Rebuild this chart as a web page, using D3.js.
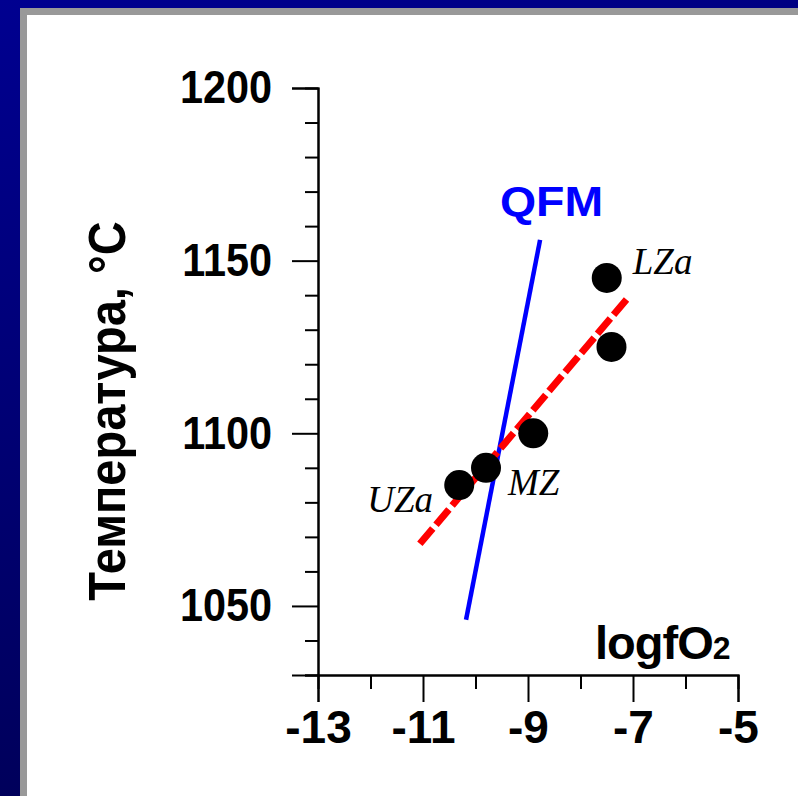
<!DOCTYPE html>
<html>
<head>
<meta charset="utf-8">
<script src="https://cdn.jsdelivr.net/npm/d3@7"></script>
<style>
  html, body { margin: 0; padding: 0; background: #fff; }
  svg { display: block; }
</style>
</head>
<body>
<div id="chart"></div>
<script>
// Temperature vs. oxygen fugacity for the zones of the intrusion
const zoneNames   = ["LZa", "", "", "MZ", "UZa"];
const logfO2      = [-7.50, -7.41, -8.90, -9.80, -10.31];
const temperature = [1145, 1125, 1100, 1090, 1085];

// QFM buffer curve and the trend through the samples
const qfmLogfO2 = [-10.18, -8.77];
const qfmTemp   = [1046, 1156];
const trendLogfO2 = [-11.06, -7.11];
const trendTemp   = [1068, 1139];

// Axis ticks
const xMajorTicks = [-13, -11, -9, -7, -5];
const xMinorTicks = [-12, -10, -8, -6];
const yMajorTicks = [1050, 1100, 1150, 1200];
const yMinorTicks = [1030, 1040, 1060, 1070, 1080, 1090, 1110, 1120, 1130, 1140, 1160, 1170, 1180, 1190];

const W = 798, H = 796;
const svg = d3.select("#chart").append("svg")
  .attr("width", W).attr("height", H);

// Slide frame: navy background, grey bevel, white panel
const defs = svg.append("defs");
const grad = defs.append("linearGradient").attr("id", "navy")
  .attr("x1", 0).attr("y1", 0).attr("x2", 0.25).attr("y2", 1);
grad.append("stop").attr("offset", "0%").attr("stop-color", "#000090");
grad.append("stop").attr("offset", "100%").attr("stop-color", "#000058");
svg.append("rect").attr("width", W).attr("height", H).attr("fill", "url(#navy)");
svg.append("rect").attr("x", 20).attr("y", 8).attr("width", W - 20).attr("height", H - 8).attr("fill", "#999999");
svg.append("rect").attr("x", 27).attr("y", 15).attr("width", W - 27).attr("height", H - 15).attr("fill", "#ffffff");

const x = d3.scaleLinear().domain([-13, -5]).range([318, 738]);
const y = d3.scaleLinear().domain([1030, 1200]).range([675, 88]);

const mainFont = "'Liberation Sans', Arial, sans-serif";

// Y axis
const yMinor = svg.append("g").attr("transform", `translate(${x(-13)},0)`)
  .call(d3.axisLeft(y).tickValues(yMinorTicks).tickSize(13).tickFormat(""));
const yMajor = svg.append("g").attr("transform", `translate(${x(-13)},0)`)
  .call(d3.axisLeft(y).tickValues(yMajorTicks).tickSize(26).tickPadding(20).tickFormat(d3.format("d")));
// X axis
const xMinor = svg.append("g").attr("transform", `translate(0,${y(1030)})`)
  .call(d3.axisBottom(x).tickValues(xMinorTicks).tickSize(14).tickFormat(""));
const xMajor = svg.append("g").attr("transform", `translate(0,${y(1030)})`)
  .call(d3.axisBottom(x).tickValues(xMajorTicks).tickSize(27).tickPadding(8).tickFormat(d => d));

[yMinor, yMajor, xMinor, xMajor].forEach(g => {
  g.selectAll("path.domain").attr("stroke", "#000").attr("stroke-width", 2);
  g.selectAll(".tick line").attr("stroke", "#000").attr("stroke-width", 2);
  g.selectAll(".tick text")
    .attr("fill", "#000")
    .style("font-family", mainFont)
    .style("font-weight", "bold")
    .style("font-size", "46px");
});
xMajor.selectAll(".tick text").attr("dy", "0.71em");
// condensed temperature labels
yMajor.selectAll(".tick text")
  .attr("x", 0)
  .attr("transform", "translate(-46,0) scale(0.9,1)");

// Axis titles
svg.append("text")
  .attr("transform", "translate(125,411) scale(1.1,1) rotate(-90)")
  .attr("text-anchor", "middle")
  .style("font-family", mainFont).style("font-weight", "bold").style("font-size", "47px")
  .text("Температура, °C");

const xt = svg.append("text")
  .attr("x", 595).attr("y", 659)
  .attr("letter-spacing", "-1")
  .style("font-family", mainFont).style("font-weight", "bold").style("font-size", "47px");
xt.append("tspan").text("logfO");
xt.append("tspan").style("font-size", "32px").text("2");

// QFM buffer
svg.append("line")
  .attr("x1", x(qfmLogfO2[0])).attr("y1", y(qfmTemp[0]))
  .attr("x2", x(qfmLogfO2[1])).attr("y2", y(qfmTemp[1]))
  .attr("stroke", "#0000ff").attr("stroke-width", 4.5);
svg.append("text")
  .attr("transform", "translate(500,216) scale(1.08,1)")
  .attr("fill", "#0000ff")
  .style("font-family", mainFont).style("font-weight", "bold").style("font-size", "43px")
  .text("QFM");

// Trend line
svg.append("line")
  .attr("x1", x(trendLogfO2[0])).attr("y1", y(trendTemp[0]))
  .attr("x2", x(trendLogfO2[1])).attr("y2", y(trendTemp[1]))
  .attr("stroke", "#ff0000").attr("stroke-width", 7)
  .attr("stroke-dasharray", "20,5");

// Samples
const samples = logfO2.map((v, i) => ({ x: v, t: temperature[i], name: zoneNames[i] }));
svg.append("g").selectAll("circle")
  .data(samples)
  .join("circle")
  .attr("cx", d => x(d.x)).attr("cy", d => y(d.t)).attr("r", 15)
  .attr("fill", "#000");

// Zone labels beside their samples
const labelOffset = { LZa: [26, -4], MZ: [22, 27], UZa: [-92, 27] };
svg.append("g").selectAll("text")
  .data(samples.filter(d => d.name))
  .join("text")
  .attr("x", d => x(d.x) + labelOffset[d.name][0])
  .attr("y", d => y(d.t) + labelOffset[d.name][1])
  .style("font-family", "'Liberation Serif', 'Times New Roman', serif")
  .style("font-style", "italic").style("font-size", "37px")
  .text(d => d.name);
</script>
</body>
</html>
